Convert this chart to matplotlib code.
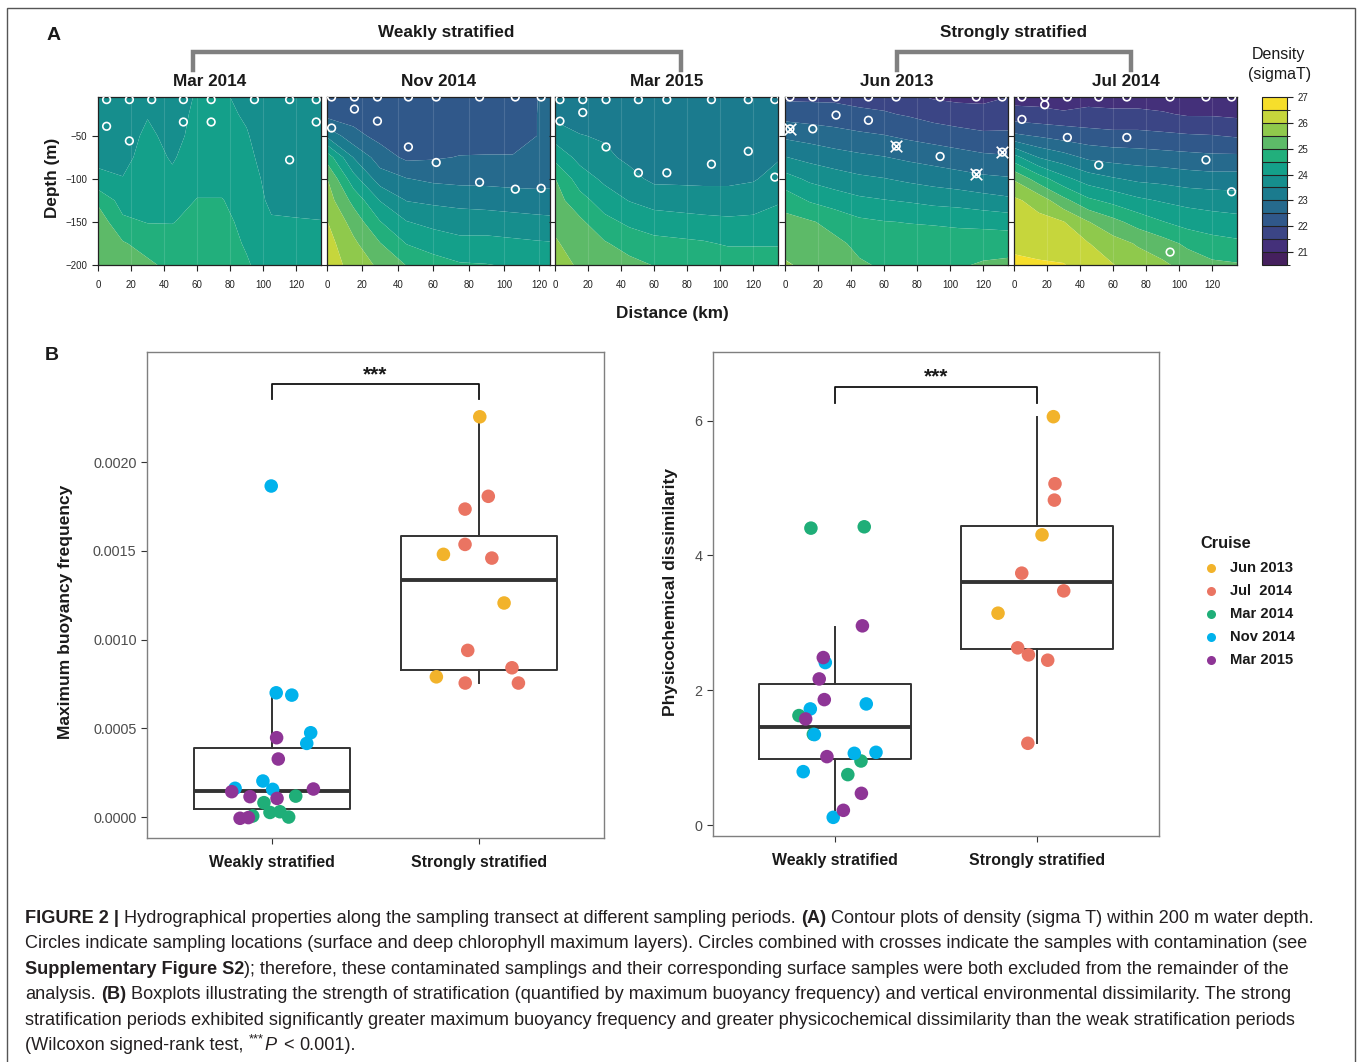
import numpy as np
import matplotlib
matplotlib.use("Agg")
import matplotlib.pyplot as plt
from matplotlib.colors import BoundaryNorm, ListedColormap
from matplotlib.lines import Line2D
from matplotlib.patches import Rectangle

plt.rcParams['font.family'] = ['Liberation Sans', 'DejaVu Sans']
plt.rcParams['axes.unicode_minus'] = True

# ------------------------------------------------------------------ data
cruises = ["Jun 2013", "Jul 2014", "Mar 2014", "Nov 2014", "Mar 2015"]
cruise_labels = ["Jun 2013", "Jul  2014", "Mar 2014", "Nov 2014", "Mar 2015"]
cruise_colors = ["#F2B32B", "#EA7462", "#1FAE78", "#00B2EC", "#8E3596"]

panel_titles = ["Mar 2014", "Nov 2014", "Mar 2015", "Jun 2013", "Jul 2014"]
panel_xmax = [135, 126, 135, 135, 135]
distance_km = [0, 15, 30, 45, 60, 75, 90, 105, 120, 135]
depth_m = [-5, -25, -50, -75, -100, -125, -150, -175, -200]
sigma_levels = [20.5, 21, 21.5, 22, 22.5, 23, 23.5, 24, 24.5, 25, 25.5, 26, 26.5, 27]
sigma_colors = ["#45205E", "#44307A", "#3B4585", "#30588A", "#266A8D", "#1B7B8E", "#168E8D",
                "#14A08A", "#22AF7C", "#5DBA68", "#8FC94C", "#C6D63C", "#F6DE2B"]
colorbar_ticks = [21, 22, 23, 24, 25, 26, 27]
x_ticks_km = [0, 20, 40, 60, 80, 100, 120]
y_ticks_m = [-50, -100, -150, -200]

# density profiles (sigma T), one list per distance, values from surface to 200 m
sigma_mar2014 = [
    [23.70, 23.75, 23.80, 23.90, 24.10, 24.90, 25.30, 25.40, 25.45],
    [23.70, 23.72, 23.78, 23.85, 24.02, 24.30, 24.60, 25.05, 25.20],
    [23.85, 23.97, 24.10, 24.20, 24.25, 24.35, 24.48, 24.80, 25.10],
    [23.75, 23.80, 23.85, 23.95, 24.10, 24.30, 24.48, 24.70, 24.85],
    [24.05, 24.10, 24.15, 24.25, 24.35, 24.52, 24.65, 24.75, 24.85],
    [24.05, 24.10, 24.15, 24.25, 24.35, 24.52, 24.60, 24.70, 24.80],
    [23.90, 23.95, 24.03, 24.10, 24.20, 24.30, 24.40, 24.45, 24.55],
    [23.70, 23.72, 23.75, 23.80, 23.85, 23.90, 24.05, 24.15, 24.25],
    [23.65, 23.70, 23.72, 23.78, 23.85, 23.92, 24.02, 24.10, 24.20],
    [23.65, 23.68, 23.70, 23.75, 23.82, 23.90, 24.01, 24.10, 24.20],
]
sigma_nov2014 = [
    [22.20, 22.30, 23.40, 24.80, 25.52, 25.75, 26.02, 26.20, 26.30],
    [22.20, 22.30, 22.65, 23.48, 24.20, 24.85, 25.30, 25.60, 25.80],
    [22.15, 22.25, 22.35, 22.75, 23.25, 23.98, 24.52, 25.02, 25.40],
    [22.10, 22.20, 22.30, 22.40, 23.02, 23.48, 24.02, 24.48, 24.98],
    [22.10, 22.20, 22.30, 22.45, 22.90, 23.40, 23.85, 24.30, 24.70],
    [22.10, 22.20, 22.30, 22.52, 22.85, 23.35, 23.75, 24.15, 24.55],
    [22.10, 22.20, 22.30, 22.53, 22.85, 23.30, 23.75, 24.15, 24.52],
    [22.15, 22.20, 22.30, 22.53, 22.82, 23.25, 23.70, 24.10, 24.45],
    [22.52, 22.53, 22.52, 22.60, 22.82, 23.20, 23.65, 24.05, 24.40],
    [22.70, 22.70, 22.70, 22.75, 22.88, 23.20, 23.60, 24.02, 24.40],
]
sigma_mar2015 = [
    [23.20, 23.35, 23.80, 24.35, 25.02, 25.20, 25.40, 25.55, 25.65],
    [23.20, 23.30, 23.52, 23.85, 24.25, 24.70, 25.10, 25.30, 25.45],
    [23.20, 23.30, 23.45, 23.60, 23.90, 24.25, 24.65, 25.05, 25.25],
    [23.20, 23.25, 23.30, 23.40, 23.65, 23.98, 24.40, 24.80, 25.15],
    [23.15, 23.20, 23.25, 23.30, 23.40, 23.80, 24.25, 24.65, 24.98],
    [23.15, 23.20, 23.25, 23.30, 23.40, 23.75, 24.20, 24.60, 24.90],
    [23.15, 23.20, 23.25, 23.30, 23.40, 23.70, 24.15, 24.55, 24.85],
    [23.15, 23.20, 23.25, 23.30, 23.40, 23.70, 24.10, 24.45, 24.80],
    [23.15, 23.20, 23.25, 23.35, 23.45, 23.80, 24.10, 24.45, 24.80],
    [23.20, 23.25, 23.35, 23.45, 23.70, 23.95, 24.20, 24.45, 24.80],
]
sigma_jun2013 = [
    [21.90, 22.30, 22.90, 23.52, 24.20, 24.80, 25.15, 25.35, 25.55],
    [21.90, 22.25, 22.80, 23.35, 23.90, 24.45, 25.05, 25.25, 25.40],
    [21.90, 22.20, 22.70, 23.20, 23.75, 24.25, 24.85, 25.10, 25.30],
    [21.85, 22.10, 22.60, 23.10, 23.60, 24.10, 24.60, 24.90, 25.05],
    [21.80, 22.05, 22.52, 23.02, 23.52, 24.02, 24.52, 24.80, 24.95],
    [21.60, 21.95, 22.40, 22.90, 23.40, 23.95, 24.48, 24.75, 24.90],
    [21.45, 21.80, 22.30, 22.80, 23.30, 23.85, 24.45, 24.75, 24.90],
    [21.40, 21.70, 22.20, 22.70, 23.20, 23.80, 24.40, 24.75, 24.95],
    [21.40, 21.65, 22.10, 22.60, 23.10, 23.70, 24.35, 24.80, 25.05],
    [21.50, 21.70, 22.10, 22.55, 23.05, 23.60, 24.30, 24.80, 25.10],
]
sigma_jul2014 = [
    [21.30, 21.70, 22.60, 24.20, 25.45, 26.10, 26.25, 26.40, 26.60],
    [21.30, 21.65, 22.45, 23.48, 24.75, 25.80, 26.15, 26.35, 26.55],
    [20.95, 21.65, 22.30, 23.20, 24.15, 25.15, 26.02, 26.30, 26.52],
    [21.30, 21.65, 22.20, 22.90, 23.75, 24.60, 25.52, 26.02, 26.30],
    [21.30, 21.60, 22.15, 22.80, 23.55, 24.35, 25.15, 25.70, 26.02],
    [21.30, 21.60, 22.15, 22.75, 23.40, 24.10, 24.80, 25.45, 25.75],
    [21.25, 21.55, 22.10, 22.70, 23.35, 23.95, 24.52, 25.20, 25.60],
    [21.20, 21.45, 22.05, 22.65, 23.25, 23.85, 24.30, 24.90, 25.30],
    [21.20, 21.45, 22.02, 22.60, 23.20, 23.80, 24.20, 24.70, 25.10],
    [21.20, 21.40, 21.95, 22.60, 23.20, 23.75, 24.15, 24.60, 25.05],
]

# sampling locations (km, m) per panel
samples_mar2014_km = [5.2, 19.0, 32.5, 51.7, 68.5, 94.7, 116.0, 132.1, 5.2, 19.0, 51.7, 68.5, 132.1, 116.0]
samples_mar2014_m = [-8, -8, -8, -8, -8, -8, -8, -8, -39, -56, -34, -34, -34, -78]
samples_nov2014_km = [2.6, 15.5, 28.5, 46.0, 61.7, 86.2, 106.4, 121.0, 2.6, 15.5, 28.5, 46.0, 61.7, 86.2, 106.4, 121.0]
samples_nov2014_m = [-5, -5, -5, -5, -5, -5, -5, -5, -41, -19, -33, -63, -81, -104, -112, -111]
samples_mar2015_km = [3.0, 16.8, 30.9, 50.5, 67.7, 94.7, 117.0, 133.1, 3.0, 16.8, 30.9, 50.5, 67.7, 94.7, 117.0, 133.1]
samples_mar2015_m = [-8, -8, -8, -8, -8, -8, -8, -8, -33, -23, -63, -93, -93, -83, -68, -98]
samples_jun2013_km = [3.0, 16.8, 30.9, 50.5, 67.3, 93.9, 115.8, 131.5, 3.0, 16.8, 30.9, 50.5, 67.3, 93.9, 115.8, 131.5]
samples_jun2013_m = [-5, -5, -5, -5, -5, -5, -5, -5, -42, -42, -26, -32, -62, -74, -94, -69]
contaminated_jun2013_km = [3.0, 67.3, 115.8, 131.5]
contaminated_jun2013_m = [-42, -62, -94, -69]
samples_jul2014_km = [4.8, 18.6, 32.3, 51.3, 68.3, 94.5, 116.2, 131.7, 18.6, 4.8, 32.3, 68.3, 51.3, 116.2, 131.7, 94.5]
samples_jul2014_m = [-5, -5, -5, -5, -5, -5, -5, -5, -14, -31, -52, -52, -84, -78, -115, -185]

groups = ["Weakly stratified", "Strongly stratified"]

# maximum buoyancy frequency: (jittered x position, value, cruise)
buoy_weak_x = [1.116, 0.963, 0.992, 1.040, 1.082, 0.909,
               0.998, 1.022, 1.097, 1.188, 1.169, 0.958, 0.824, 1.005,
               1.024, 1.032, 0.808, 1.201, 0.896, 1.026, 0.848, 0.888]
buoy_weak_val = [0.000118, 0.000081, 0.000026, 0.000030, 0.000000, 0.000006,
                 0.001865, 0.000700, 0.000687, 0.000475, 0.000415, 0.000203, 0.000162, 0.000156,
                 0.000447, 0.000327, 0.000143, 0.000158, 0.000115, 0.000105, -0.000007, -0.000003]
buoy_weak_cruise = ["Mar 2014"] * 6 + ["Nov 2014"] * 8 + ["Mar 2015"] * 8
buoy_strong_x = [2.002, 1.827, 2.119, 1.793,
                 2.043, 1.931, 1.931, 2.060, 1.944, 2.157, 1.932, 2.188]
buoy_strong_val = [0.002255, 0.001480, 0.001206, 0.000790,
                   0.001807, 0.001735, 0.001536, 0.001459, 0.000939, 0.000841, 0.000755, 0.000755]
buoy_strong_cruise = ["Jun 2013"] * 4 + ["Jul 2014"] * 8
buoy_box = {  # whislo, q1, median, q3, whishi
    "Weakly stratified": [0.0, 0.000045, 0.000146, 0.000390, 0.000704],
    "Strongly stratified": [0.000755, 0.000828, 0.001335, 0.001583, 0.002254],
}

# physicochemical dissimilarity
diss_weak_x = [0.883, 1.146, 0.824, 0.895, 1.130, 1.065,
               0.954, 1.156, 0.880, 0.900, 1.097, 1.204, 0.845, 0.993,
               1.137, 0.944, 0.924, 0.949, 0.857, 0.962, 1.132, 1.043]
diss_weak_val = [4.406, 4.426, 1.624, 1.347, 0.950, 0.748,
                 2.411, 1.797, 1.723, 1.342, 1.064, 1.079, 0.792, 0.114,
                 2.956, 2.485, 2.168, 1.861, 1.574, 1.015, 0.470, 0.218]
diss_weak_cruise = ["Mar 2014"] * 6 + ["Nov 2014"] * 8 + ["Mar 2015"] * 8
diss_strong_x = [2.079, 2.023, 1.806,
                 2.087, 2.084, 1.923, 2.130, 1.903, 1.956, 2.051, 1.953]
diss_strong_val = [6.060, 4.307, 3.144,
                   5.065, 4.822, 3.738, 3.475, 2.629, 2.525, 2.446, 1.213]
diss_strong_cruise = ["Jun 2013"] * 3 + ["Jul 2014"] * 8
diss_box = {
    "Weakly stratified": [0.22, 0.975, 1.455, 2.094, 2.945],
    "Strongly stratified": [1.213, 2.614, 3.604, 4.440, 6.050],
}

# ------------------------------------------------------------------ figure
W, H = 1358, 1062
fig = plt.figure(figsize=(W / 100, H / 100), dpi=100)


def rect(x0, y0, x1, y1):
    return [x0 / W, 1 - y1 / H, (x1 - x0) / W, (y1 - y0) / H]


def fx(x):
    return x / W


def fy(y):
    return 1 - y / H


TXT = '#1a1a1a'
color_of = dict(zip(cruises, cruise_colors))

# outer frame
fig.add_artist(Rectangle((fx(7), -0.02), fx(1355) - fx(7), fy(8) + 0.02, transform=fig.transFigure,
                         fill=False, edgecolor='#555555', lw=1.0, clip_on=False))

# ---------------- Panel A
fields = [sigma_mar2014, sigma_nov2014, sigma_mar2015, sigma_jun2013, sigma_jul2014]
samples_km = [samples_mar2014_km, samples_nov2014_km, samples_mar2015_km, samples_jun2013_km, samples_jul2014_km]
samples_m = [samples_mar2014_m, samples_nov2014_m, samples_mar2015_m, samples_jun2013_m, samples_jul2014_m]
panel_px = [(98, 321), (327, 550), (555, 778), (785, 1008), (1014, 1237)]
cmap = ListedColormap(sigma_colors)
norm = BoundaryNorm(sigma_levels, len(sigma_colors))
cs_ref = None
for i in range(5):
    x0, x1 = panel_px[i]
    ax = fig.add_axes(rect(x0, 97, x1, 265))
    Z = np.array(fields[i]).T
    cs = ax.contourf(distance_km, depth_m, Z, levels=sigma_levels, cmap=cmap, norm=norm, antialiased=True)
    if cs_ref is None:
        cs_ref = cs
    for v in x_ticks_km:
        ax.axvline(v, color='white', alpha=0.13, lw=0.8, zorder=2)
    ax.scatter(samples_km[i], samples_m[i], s=30, facecolors='none', edgecolors='white', linewidths=1.2, zorder=4)
    if panel_titles[i] == "Jun 2013":
        ax.scatter(contaminated_jun2013_km, contaminated_jun2013_m, marker='x', s=70, color='white', linewidths=1.2, zorder=5)
    ax.set_xlim(0, panel_xmax[i])
    ax.set_ylim(-200, -5)
    ax.set_xticks(x_ticks_km)
    ax.set_yticks(y_ticks_m)
    ax.tick_params(labelsize=7, length=4, width=0.8, pad=4, color='#222222', labelcolor='#222222')
    ax.tick_params(axis='x', pad=7)
    if i > 0:
        ax.set_yticklabels([])
    for sp in ax.spines.values():
        sp.set_linewidth(0.9)
        sp.set_color('#222222')
    fig.text(fx((x0 + x1) / 2), fy(82), panel_titles[i], ha='center', va='center',
             fontsize=12.3, fontweight='bold', color=TXT)

# colourbar
cax = fig.add_axes(rect(1262, 97, 1287, 265))
cb = fig.colorbar(cs_ref, cax=cax, ticks=colorbar_ticks, drawedges=True)
cb.outline.set_linewidth(0.8)
cb.outline.set_edgecolor('#222222')
cb.dividers.set_color('#222222')
cb.dividers.set_linewidth(0.8)
cax.tick_params(labelsize=7, length=4, width=0.8, color='#222222', labelcolor='#222222')
fig.text(fx(1278), fy(55), "Density", ha='center', va='center', fontsize=11.5, color=TXT)
fig.text(fx(1280), fy(74), "(sigmaT)", ha='center', va='center', fontsize=11.5, color=TXT)

# group brackets
fig.text(fx(54), fy(35), "A", ha='center', va='center', fontsize=14, fontweight='bold', color=TXT)
for (xa, xb, label, xc) in [(193, 681, "Weakly stratified", 446), (897, 1131, "Strongly stratified", 1013)]:
    fig.add_artist(Line2D([fx(xa), fx(xa), fx(xb), fx(xb)], [fy(70), fy(52), fy(52), fy(70)],
                          transform=fig.transFigure, color='#808080', lw=3.2, solid_joinstyle='miter'))
    fig.text(fx(xc), fy(33), label, ha='center', va='center', fontsize=12.3, fontweight='bold', color=TXT)

fig.text(fx(672), fy(313), "Distance (km)", ha='center', va='center', fontsize=12.3, fontweight='bold', color=TXT)
fig.text(fx(52), fy(178), "Depth (m)", ha='center', va='center', rotation=90, fontsize=12.3,
         fontweight='bold', color=TXT)

# ---------------- Panel B
fig.text(fx(52), fy(355), "B", ha='center', va='center', fontsize=14, fontweight='bold', color=TXT)


def box_panel(px, wx, wv, wc, sx, sv, sc, box, ylim, yticks, ylabels, bracket, ylab, ylab_px):
    ax = fig.add_axes(rect(*px))
    stats = []
    for g in groups:
        lo, q1, med, q3, hi = box[g]
        stats.append(dict(whislo=lo, q1=q1, med=med, q3=q3, whishi=hi, fliers=[], label=g))
    lc = '#333333'
    ax.bxp(stats, positions=[1, 2], widths=0.75, showfliers=False, showcaps=False,
           boxprops=dict(color=lc, lw=1.4), whiskerprops=dict(color=lc, lw=1.4),
           medianprops=dict(color=lc, lw=2.8), zorder=2)
    ax.scatter(wx, wv, s=95, c=[color_of[c] for c in wc], edgecolors='none', zorder=3)
    ax.scatter(sx, sv, s=95, c=[color_of[c] for c in sc], edgecolors='none', zorder=3)
    b0, b1 = bracket
    ax.plot([1, 1, 2, 2], [b0, b1, b1, b0], color='#111111', lw=1.3, zorder=3)
    ax.text(1.5, b1, "***", ha='center', va='bottom', fontsize=15, fontweight='bold', color=TXT)
    ax.set_xlim(0.4, 2.6)
    ax.set_ylim(*ylim)
    ax.set_yticks(yticks)
    ax.set_yticklabels(ylabels)
    ax.set_xticks([1, 2])
    ax.set_xticklabels(groups, fontsize=11.4, fontweight='bold', color=TXT)
    ax.tick_params(axis='y', labelsize=10.4, labelcolor='#4d4d4d', color='#333333', length=4, width=0.8)
    ax.tick_params(axis='x', color='#333333', length=4, width=0.8, pad=8)
    for sp in ax.spines.values():
        sp.set_color('#7f7f7f')
        sp.set_linewidth(1.0)
    fig.text(fx(ylab_px[0]), fy(ylab_px[1]), ylab, ha='center', va='center', rotation=90,
             fontsize=12.5, fontweight='bold', color=TXT)
    return ax


box_panel((147, 352, 604, 838), buoy_weak_x, buoy_weak_val, buoy_weak_cruise,
          buoy_strong_x, buoy_strong_val, buoy_strong_cruise, buoy_box,
          (-0.000118, 0.00262), [0, 0.0005, 0.001, 0.0015, 0.002],
          ["0.0000", "0.0005", "0.0010", "0.0015", "0.0020"], (0.002355, 0.00244),
          "Maximum buoyancy frequency", (66, 612))
box_panel((713, 352, 1159, 836), diss_weak_x, diss_weak_val, diss_weak_cruise,
          diss_strong_x, diss_strong_val, diss_strong_cruise, diss_box,
          (-0.163, 7.02), [0, 2, 4, 6], ["0", "2", "4", "6"], (6.268, 6.505),
          "Physicochemical dissimilarity", (671, 592))

# legend
fig.text(fx(1200), fy(543), "Cruise", ha='left', va='center', fontsize=11.8, fontweight='bold', color=TXT)
for k, (lab, col) in enumerate(zip(cruise_labels, cruise_colors)):
    yy = 568 + 23 * k
    fig.add_artist(Line2D([fx(1211)], [fy(yy)], marker='o', ms=6.5, color=col, mec='none',
                          transform=fig.transFigure, linestyle='none'))
    fig.text(fx(1230), fy(yy), lab, ha='left', va='center', fontsize=10.6, fontweight='bold', color=TXT)

# ---------------- caption
renderer = fig.canvas.get_renderer()
CAP = '#231f20'


def style_kw(style, size):
    kw = dict(fontsize=size, color=CAP)
    if style == 'b':
        kw['fontweight'] = 'bold'
    if style == 'i':
        kw['fontstyle'] = 'italic'
    if style == 'sup':
        kw['fontsize'] = size * 0.72
    return kw


def measure(s, kw):
    t = fig.text(0, 0, s, **kw)
    w = t.get_window_extent(renderer=renderer).width
    t.remove()
    return w


def line_width(runs, size):
    sp = measure("I I", style_kw('r', size)) - measure("II", style_kw('r', size))
    tot = 0
    for s, st in runs:
        tot += sp if s == ' ' else measure(s, style_kw(st, size))
    return tot


def draw_runs(x, y, runs, size):
    sp = measure("I I", style_kw('r', size)) - measure("II", style_kw('r', size))
    for s, st in runs:
        if s == ' ':
            x += sp
            continue
        kw = style_kw(st, size)
        yy = y - (size * 100 / 72 * 0.42 if st == 'sup' else 0)
        fig.text(fx(x), fy(yy), s, ha='left', va='baseline', **kw)
        x += measure(s, kw) + (1.5 if st in ('sup', 'i') else 0)


caption = [
    [("FIGURE 2 |", 'b'), (' ', ''), ("Hydrographical properties along the sampling transect at different sampling periods.", 'r'),
     (' ', ''), ("(A)", 'b'), (' ', ''), ("Contour plots of density (sigma T) within 200 m water depth.", 'r')],
    [("Circles indicate sampling locations (surface and deep chlorophyll maximum layers). Circles combined with crosses indicate the samples with contamination (see", 'r')],
    [("Supplementary Figure S2", 'b'), ("); therefore, these contaminated samplings and their corresponding surface samples were both excluded from the remainder of the", 'r')],
    [("analysis.", 'r'), (' ', ''), ("(B)", 'b'), (' ', ''),
     ("Boxplots illustrating the strength of stratification (quantified by maximum buoyancy frequency) and vertical environmental dissimilarity. The strong", 'r')],
    [("stratification periods exhibited significantly greater maximum buoyancy frequency and greater physicochemical dissimilarity than the weak stratification periods", 'r')],
    [("(Wilcoxon signed-rank test,", 'r'), (' ', ''), ("***", 'sup'), ("P", 'i'), (' ', ''), ("<", 'r'), (' ', ''), ("0.001).", 'r')],
]
base = 10.0
cap_size = base * 1291.0 / line_width(caption[0], base)
for k, runs in enumerate(caption):
    draw_runs(25, 923 + 25.4 * k, runs, cap_size)

fig.savefig("out.png", dpi=100)
